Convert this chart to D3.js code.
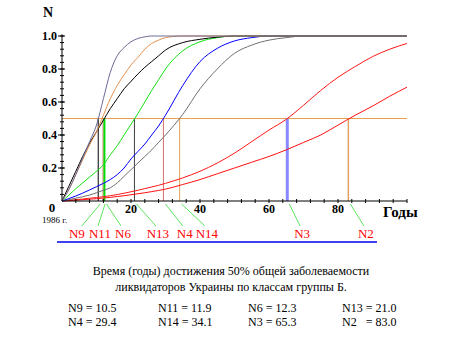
<!DOCTYPE html>
<html>
<head>
<meta charset="utf-8">
<script src="https://d3js.org/d3.v7.min.js"></script>
<style>
  body { margin: 0; background: #fff; }
</style>
</head>
<body>
<svg id="chart" width="469" height="351"></svg>
<script>
// shared year grid for all curves
var years = [0, 2, 4, 6, 8, 10, 12, 14, 16, 18, 20, 22, 24, 26, 28, 30,
  35, 40, 45, 50, 55, 60, 65, 70, 75, 80, 85, 90, 95, 100];

var curveN9 = [0, .07, .16, .26, .36, .46, .62, .78, .88, .93, .965, .985, .995, 1, 1, 1,
  1, 1, 1, 1, 1, 1, 1, 1, 1, 1, 1, 1, 1, 1];
var curveN11 = [0, .07, .16, .25, .34, .42, .52, .62, .70, .765, .825, .87, .92, .955, .975, .99,
  1, 1, 1, 1, 1, 1, 1, 1, 1, 1, 1, 1, 1, 1];
var curveN6 = [0, .09, .18, .27, .35, .42, .49, .56, .62, .68, .725, .77, .81, .845, .88, .915,
  .96, .98, .993, 1, 1, 1, 1, 1, 1, 1, 1, 1, 1, 1];
var curveN13 = [0, .035, .075, .11, .145, .18, .22, .28, .335, .40, .465, .53, .60, .67, .735, .80,
  .91, .965, .99, 1, 1, 1, 1, 1, 1, 1, 1, 1, 1, 1];
var curveN4 = [0, .015, .03, .048, .067, .087, .107, .13, .16, .20, .255, .30, .345, .40, .455, .52,
  .70, .845, .925, .97, .99, 1, 1, 1, 1, 1, 1, 1, 1, 1];
var curveN14 = [0, .008, .017, .026, .036, .05, .065, .08, .11, .15, .19, .23, .27, .31, .355, .40,
  .525, .68, .80, .895, .945, .975, .99, 1, 1, 1, 1, 1, 1, 1];
var curveN3 = [0, .004, .008, .012, .017, .021, .026, .032, .039, .047, .056, .065, .075, .085, .095, .107,
  .14, .18, .23, .29, .36, .43, .495, .58, .67, .75, .815, .875, .92, .955];
var curveN2 = [0, .002, .005, .008, .011, .014, .018, .022, .027, .032, .038, .044, .05, .057, .064, .072,
  .10, .13, .165, .20, .235, .27, .31, .355, .40, .46, .52, .575, .635, .69];

// drawing order and colours of the curves
var curveNames = ["N2", "N3", "N14", "N4", "N13", "N6", "N11", "N9"];
var curveValues = [curveN2, curveN3, curveN14, curveN4, curveN13, curveN6, curveN11, curveN9];
var curveColors = ["#ff1010", "#ff1818", "#707070", "#0000ff", "#10e010", "#000000", "#e8904c", "#6a6a98"];

// years when each class reaches 50%
var halfNames = ["N9", "N11", "N6", "N13", "N4", "N14", "N3", "N2"];
var halfYears = [10.5, 11.9, 12.3, 21.0, 29.4, 34.1, 65.3, 83.0];
var halfColors = ["#000000", "#e07070", "#00dd00", "#404040", "#d87070", "#e0a060", "#8888ff", "#e0a060"];
var halfWidths = [1, 1, 2, 1, 1, 1, 3, 1.5];
// where the red labels sit, in years
var labelYears = [4.3, 11.0, 17.7, 27.8, 35.6, 42.0, 69.6, 88.1];

var xTicks = [20, 40, 60, 80];
var yTicks = [0.2, 0.4, 0.6, 0.8, 1.0];

var serif = "'Liberation Serif', 'DejaVu Serif', 'Times New Roman', serif";

var svg = d3.select("#chart")
  .style("font-family", serif)
  .attr("font-family", serif);

var xScale = d3.scaleLinear().domain([0, 100]).range([62, 407]);
var yScale = d3.scaleLinear().domain([0, 1]).range([201, 36]);

// 50% level line
svg.append("line")
  .attr("x1", xScale(0))
  .attr("x2", xScale(100))
  .attr("y1", yScale(0.5))
  .attr("y2", yScale(0.5))
  .attr("stroke", "#e8a050")
  .attr("stroke-width", 1);

// drop lines at the 50% years
svg.selectAll("line.drop")
  .data(halfYears)
  .enter()
  .append("line")
  .attr("class", "drop")
  .attr("x1", function (d) { return xScale(d); })
  .attr("x2", function (d) { return xScale(d); })
  .attr("y1", yScale(0))
  .attr("y2", yScale(0.5))
  .attr("stroke", function (d, i) { return halfColors[i]; })
  .attr("stroke-width", function (d, i) { return halfWidths[i]; });

var line = d3.line()
  .x(function (d) { return xScale(d[0]); })
  .y(function (d) { return yScale(d[1]); })
  .curve(d3.curveMonotoneX);

curveValues.forEach(function (vals, i) {
  svg.append("path")
    .attr("class", "curve " + curveNames[i])
    .attr("d", line(years.map(function (y, j) { return [y, vals[j]]; })))
    .attr("fill", "none")
    .attr("stroke", curveColors[i])
    .attr("stroke-width", 1);
});

// axes, drawn by hand in the old plot style
var axes = svg.append("g").attr("stroke", "#000");

axes.append("line")
  .attr("x1", xScale(0)).attr("x2", xScale(100))
  .attr("y1", yScale(0)).attr("y2", yScale(0));
axes.append("line")
  .attr("x1", xScale(0)).attr("x2", xScale(0))
  .attr("y1", yScale(0)).attr("y2", yScale(1.01));

axes.selectAll("line.xminor")
  .data(d3.range(4, 101, 4))
  .enter()
  .append("line")
  .attr("class", "xminor")
  .attr("x1", function (d) { return xScale(d); })
  .attr("x2", function (d) { return xScale(d); })
  .attr("y1", yScale(0) - 2)
  .attr("y2", yScale(0) + 2);

axes.selectAll("line.yminor")
  .data(d3.range(0.04, 1.001, 0.04))
  .enter()
  .append("line")
  .attr("class", "yminor")
  .attr("x1", xScale(0) - 2)
  .attr("x2", xScale(0) + 2)
  .attr("y1", function (d) { return yScale(d); })
  .attr("y2", function (d) { return yScale(d); });

axes.selectAll("line.ymajor")
  .data(yTicks)
  .enter()
  .append("line")
  .attr("class", "ymajor")
  .attr("x1", xScale(0) - 4)
  .attr("x2", xScale(0) + 3)
  .attr("y1", function (d) { return yScale(d); })
  .attr("y2", function (d) { return yScale(d); });

svg.selectAll("text.ytick")
  .data(yTicks)
  .enter()
  .append("text")
  .attr("class", "ytick")
  .attr("x", xScale(0) - 5)
  .attr("y", function (d) { return yScale(d) + 4; })
  .attr("text-anchor", "end")
  .attr("font-size", 12)
  .attr("font-weight", "bold")
  .text(function (d) { return d.toFixed(1); });

svg.selectAll("text.xtick")
  .data(xTicks)
  .enter()
  .append("text")
  .attr("class", "xtick")
  .attr("x", function (d) { return xScale(d); })
  .attr("y", yScale(0) + 12)
  .attr("text-anchor", "middle")
  .attr("font-size", 12)
  .attr("font-weight", "bold")
  .text(function (d) { return d; });

svg.append("text")
  .attr("x", xScale(0) - 10)
  .attr("y", yScale(0) + 11)
  .attr("text-anchor", "middle")
  .attr("font-size", 13)
  .attr("font-weight", "bold")
  .text("0");

svg.append("text")
  .attr("x", 42)
  .attr("y", 223)
  .attr("font-size", 9)
  .text("1986 г.");

svg.append("text")
  .attr("x", 43)
  .attr("y", 17)
  .attr("font-size", 14)
  .attr("font-weight", "bold")
  .text("N");

svg.append("text")
  .attr("x", 383)
  .attr("y", 217)
  .attr("font-size", 15)
  .attr("font-weight", "bold")
  .text("Годы");

// green leaders and red class labels under the axis
svg.selectAll("line.leader")
  .data(halfYears)
  .enter()
  .append("line")
  .attr("class", "leader")
  .attr("x1", function (d) { return xScale(d) + 2; })
  .attr("y1", yScale(0) + 3)
  .attr("x2", function (d, i) { return xScale(labelYears[i]) + (i === 0 ? 5 : -2); })
  .attr("y2", 226)
  .attr("stroke", "#33dd33")
  .attr("stroke-width", 0.8);

svg.selectAll("text.nlabel")
  .data(halfNames)
  .enter()
  .append("text")
  .attr("class", "nlabel")
  .attr("x", function (d, i) { return xScale(labelYears[i]); })
  .attr("y", 238)
  .attr("text-anchor", "middle")
  .attr("font-size", 13)
  .attr("fill", "#ff0000")
  .text(function (d) { return d; });

svg.append("line")
  .attr("x1", 57).attr("x2", 377)
  .attr("y1", 242).attr("y2", 242)
  .attr("stroke", "#0000ee")
  .attr("stroke-width", 1.5);

// caption and the table of values
var caption = svg.append("text")
  .attr("text-anchor", "middle")
  .attr("font-size", 12);
caption.append("tspan").attr("x", 231).attr("y", 275)
  .text("Время (годы) достижения  50% общей заболеваемости");
caption.append("tspan").attr("x", 231).attr("y", 291)
  .text("ликвидаторов Украины по классам группы Б.");

var tableCols = [68, 158, 248, 342];
svg.selectAll("text.val")
  .data(halfNames)
  .enter()
  .append("text")
  .attr("class", "val")
  .attr("x", function (d, i) { return tableCols[i % 4]; })
  .attr("y", function (d, i) { return i < 4 ? 312 : 326; })
  .attr("font-size", 12)
  .style("white-space", "pre")
  .text(function (d, i) {
    return (d === "N2" ? d + "   = " : d + " = ") + halfYears[i].toFixed(1);
  });
</script>
</body>
</html>
